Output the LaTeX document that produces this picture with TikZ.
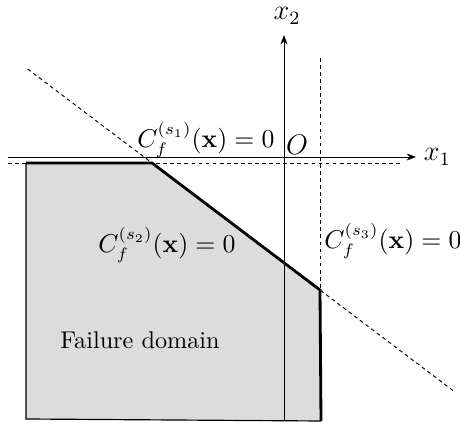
\documentclass[tikz,border=0pt]{standalone}
\usepackage{amsmath}
\usepackage{amssymb}
\usepackage{tikz}
\usetikzlibrary{arrows.meta,calc}

\definecolor{domaingray}{RGB}{220,220,220}

\begin{document}
\begin{tikzpicture}[x=0.425pt,y=-0.425pt,
  axis/.style={-{Stealth[length=4pt,width=3pt]}},
  limit/.style={dash pattern=on 1.6pt off 1.4pt},
  border/.style={line width=1.2pt},
  tag/.style={inner sep=1pt, font=\fontsize{10.5}{13}\selectfont},
  axislabel/.style={inner sep=1pt, font=\fontsize{12}{14}\selectfont}]
  \useasboundingbox (0,0) rectangle (460,423);
  % corners of the failure domain
  \coordinate (P1) at (26,163);
  \coordinate (P2) at (152,163);
  \coordinate (P3) at (320,290);
  \coordinate (P4) at (321,421);
  \coordinate (P5) at (26,419);
  \fill[domaingray] (P1) -- (P2) -- (P3) -- (P4) -- (P5) -- cycle;
  % axes
  \coordinate (x1s) at (8,157);
  \coordinate (x1e) at (416,157);
  \coordinate (x2s) at (284,421);
  \coordinate (x2e) at (284,35);
  \draw[axis] (x1s) -- (x1e);
  \draw[axis] (x2s) -- (x2e);
  \node[axislabel, anchor=west] (x1) at (421,157) {$x_1$};
  \node[axislabel] (x2) at (287,16) {$x_2$};
  \node[axislabel] (O) at (297,145) {$O$};
  % limit state surfaces
  \coordinate (h1) at (8,163);
  \coordinate (h2) at (403,163);
  \coordinate (v1) at (320,58);
  \draw[limit] (h1) -- (h2);
  \draw[limit] (v1) -- (P3);
  \draw[limit] ($(P2)!-0.74!(P3)$) -- ($(P2)!1.8!(P3)$);
  % boundary
  \draw[line width=0.5pt] (P4) -- (P5) -- (P1);
  \draw[border] (P1) -- (P2) -- (P3) -- (P4);
  \node[tag] (s1) at (206,140) {$C_f^{(s_1)}(\mathbf{x})=0$};
  \node[tag] (s2) at (167,245) {$C_f^{(s_2)}(\mathbf{x})=0$};
  \node[tag] (s3) at (393,241) {$C_f^{(s_3)}(\mathbf{x})=0$};
  \node[tag, font=\fontsize{10.3}{12}\selectfont] (fd) at (140,340) {Failure domain};
\end{tikzpicture}
\end{document}
